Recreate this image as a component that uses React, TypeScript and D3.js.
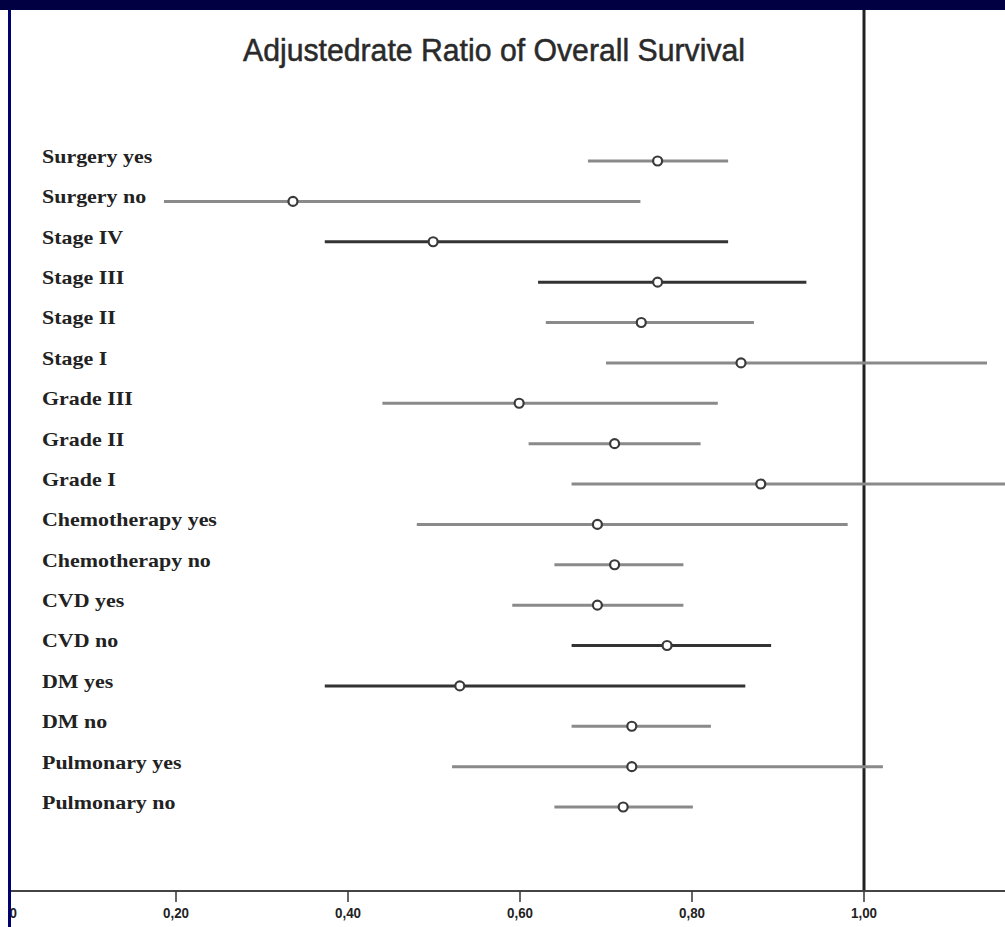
import React from "react";
import * as d3 from "d3";

const categories = [
  "Surgery yes", "Surgery no", "Stage IV", "Stage III", "Stage II", "Stage I",
  "Grade III", "Grade II", "Grade I", "Chemotherapy yes", "Chemotherapy no",
  "CVD yes", "CVD no", "DM yes", "DM no", "Pulmonary yes", "Pulmonary no",
];
const estimate = [0.76, 0.336, 0.499, 0.76, 0.741, 0.857, 0.599, 0.71, 0.88, 0.69, 0.71, 0.69, 0.771, 0.53, 0.73, 0.73, 0.72];
const lower = [0.679, 0.186, 0.373, 0.621, 0.63, 0.70, 0.44, 0.61, 0.66, 0.48, 0.64, 0.591, 0.66, 0.373, 0.66, 0.521, 0.64];
const upper = [0.842, 0.74, 0.842, 0.933, 0.872, 1.143, 0.83, 0.81, 1.20, 0.981, 0.79, 0.79, 0.892, 0.862, 0.822, 1.022, 0.801];
const darkRows = [false, false, true, true, false, false, false, false, false, false, false, false, true, true, false, false, false];
const tickValues = [0, 0.2, 0.4, 0.6, 0.8, 1.0];
const tickLabels = ["0,00", "0,20", "0,40", "0,60", "0,80", "1,00"];
const title = "Adjustedrate Ratio of Overall Survival";

export default function App() {
  const W = 1005, H = 927;
  const x = d3.scaleLinear().domain([0, 1]).range([4, 864]);
  const y = d3.scalePoint<string>().domain(categories).range([161, 807]);
  const axisY = 891;
  const sans = "'Liberation Sans', Arial, sans-serif";
  return (
    <div style={{ position: "absolute", left: 0, top: 0 }}>
      <svg width={W} height={H} viewBox={`0 0 ${W} ${H}`} style={{ display: "block", background: "#fff" }}>
        <rect x={0} y={0} width={W} height={H} fill="#fff" />
        <text x={494} y={61} textAnchor="middle" fontFamily={sans} fontSize={31} fill="#2a2a2a"
          stroke="#2a2a2a" strokeWidth={0.5}
          textLength={502} lengthAdjust="spacingAndGlyphs">{title}</text>
        <g transform="translate(42,0) scale(1.22,1)">
          {categories.map((c) => (
            <text key={"l" + c} x={0} y={(y(c) as number) + 2} fontFamily="'Liberation Serif', 'Times New Roman', serif"
              fontWeight="bold" fontSize={18} fill="#222">{c}</text>
          ))}
        </g>
        {/* reference line at 1 */}
        <line x1={x(1)} x2={x(1)} y1={10} y2={axisY} stroke="#222" strokeWidth={3} />
        {categories.map((c, i) => {
          const yy = y(c) as number;
          const col = darkRows[i] ? "#333" : "#8a8a8a";
          return (
            <g key={"r" + c}>
              <line x1={x(lower[i])} x2={x(upper[i])} y1={yy} y2={yy} stroke={col} strokeWidth={3} />
              <circle cx={x(estimate[i])} cy={yy} r={4.5} fill="#fff" stroke="#3a3a3a" strokeWidth={2.2} />
            </g>
          );
        })}
        {/* axis */}
        <line x1={11} x2={W} y1={axisY} y2={axisY} stroke="#444" strokeWidth={2} />
        {tickValues.map((t, i) => (
          <g key={"t" + i}>
            <line x1={x(t)} x2={x(t)} y1={axisY} y2={axisY + 11} stroke="#333" strokeWidth={1.5} />
            <text x={x(t)} y={918} textAnchor="middle" fontFamily={sans} fontWeight="bold" fontSize={15}
              fill="#222" textLength={26} lengthAdjust="spacingAndGlyphs">{tickLabels[i]}</text>
          </g>
        ))}
        {/* frame */}
        <rect x={0} y={10} width={8} height={H - 10} fill="#fff" />
        <rect x={8} y={0} width={3} height={H} fill="#000070" />
        <rect x={0} y={0} width={W} height={10} fill="#000042" />
      </svg>
    </div>
  );
}
